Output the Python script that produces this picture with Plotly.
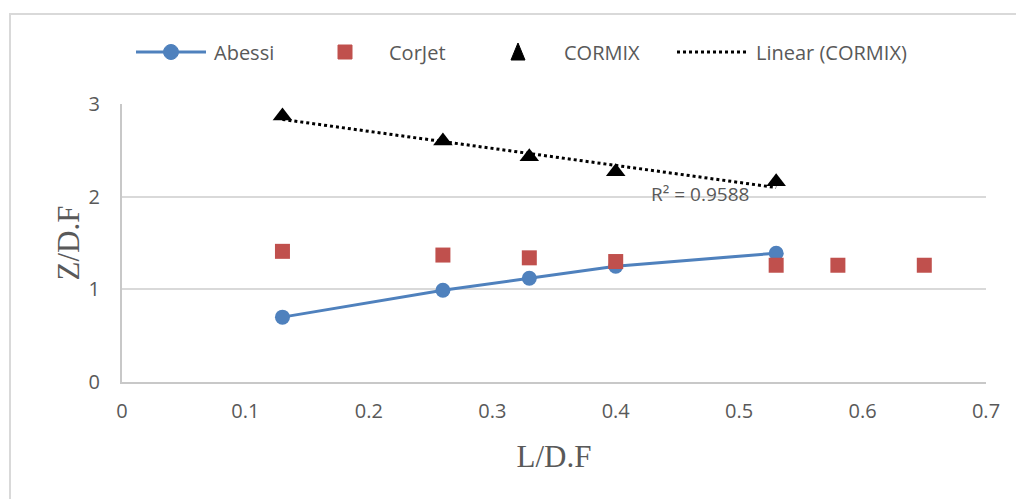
import numpy as np
import plotly.graph_objects as go

x_abessi = [0.13, 0.26, 0.33, 0.40, 0.53]
y_abessi = [0.70, 0.99, 1.12, 1.25, 1.39]

x_corjet = [0.13, 0.26, 0.33, 0.40, 0.53, 0.58, 0.65]
y_corjet = [1.41, 1.37, 1.34, 1.30, 1.26, 1.26, 1.26]

x_cormix = [0.13, 0.26, 0.33, 0.40, 0.53]
y_cormix = [2.87, 2.60, 2.43, 2.27, 2.16]

x_ticks = [0, 0.1, 0.2, 0.3, 0.4, 0.5, 0.6, 0.7]
x_ticklabels = ["0", "0.1", "0.2", "0.3", "0.4", "0.5", "0.6", "0.7"]
y_ticks = [0, 1, 2, 3]

series_names = ["Abessi", "CorJet", "CORMIX", "Linear (CORMIX)"]

# linear trendline of CORMIX
xc = np.array(x_cormix)
yc = np.array(y_cormix)
slope, intercept = np.polyfit(xc, yc, 1)
trend_x = [xc.min(), xc.max()]
trend_y = [slope * v + intercept for v in trend_x]

W, H = 1016, 499
ML, MR, MT, MB = 122, 30, 104, 117
PW, PH = W - ML - MR, H - MT - MB


def px(xp):
    return (xp - ML) / PW


def py(yp):
    return (H - MB - yp) / PH


BLUE, RED, BLACK, GRAY = "#4F81BD", "#C0504D", "#000000", "#595959"
tick_font = dict(family="Open Sans", size=20, color=GRAY)
title_font = dict(family="Liberation Serif", size=31, color=GRAY)

fig = go.Figure()
fig.add_trace(go.Scatter(
    x=x_abessi, y=y_abessi, mode="lines+markers", name=series_names[0],
    line=dict(color=BLUE, width=3),
    marker=dict(symbol="circle", size=15, color=BLUE),
))
fig.add_trace(go.Scatter(
    x=x_corjet, y=y_corjet, mode="markers", name=series_names[1],
    marker=dict(symbol="square", size=15, color=RED),
))
fig.add_trace(go.Scatter(
    x=x_cormix, y=y_cormix, mode="markers", name=series_names[2],
    marker=dict(symbol="triangle-up", size=17, color=BLACK),
))
fig.add_trace(go.Scatter(
    x=trend_x, y=trend_y, mode="lines", name=series_names[3],
    line=dict(color=BLACK, width=3, dash="dot"),
))

fig.add_annotation(
    x=0.468, y=2.03, xref="x", yref="y", text="R² = 0.9588",
    showarrow=False, font=dict(family="Open Sans", size=19, color=GRAY),
)

# chart area border
fig.add_shape(type="rect", xref="paper", yref="paper",
              x0=px(10), x1=px(1030), y0=py(520), y1=py(14),
              line=dict(color="#D9D9D9", width=2), layer="below")

# ---- legend (drawn manually to match the original layout) ----
LY = 52
# Abessi: line + circle
fig.add_shape(type="line", xref="paper", yref="paper",
              x0=px(136), x1=px(206), y0=py(LY), y1=py(LY),
              line=dict(color=BLUE, width=3))
fig.add_shape(type="circle", xref="paper", yref="paper",
              x0=px(171 - 7.5), x1=px(171 + 7.5), y0=py(LY + 7.5), y1=py(LY - 7.5),
              line=dict(color=BLUE, width=1), fillcolor=BLUE)
# CorJet: square
fig.add_shape(type="rect", xref="paper", yref="paper",
              x0=px(345 - 7), x1=px(345 + 7), y0=py(LY + 7), y1=py(LY - 7),
              line=dict(color=RED, width=1), fillcolor=RED)
# CORMIX: triangle
tri = "M {:.5f},{:.5f} L {:.5f},{:.5f} L {:.5f},{:.5f} Z".format(
    px(518), py(LY - 9), px(511), py(LY + 8), px(525), py(LY + 8))
fig.add_shape(type="path", xref="paper", yref="paper", path=tri,
              line=dict(color=BLACK, width=1), fillcolor=BLACK)
# Linear: dotted line
fig.add_shape(type="line", xref="paper", yref="paper",
              x0=px(677), x1=px(746), y0=py(LY), y1=py(LY),
              line=dict(color=BLACK, width=3, dash="dot"))

legend_text_x = [212, 387, 562, 754]
for name, tx in zip(series_names, legend_text_x):
    fig.add_annotation(x=px(tx), y=py(LY), xref="paper", yref="paper",
                       text=name, showarrow=False, xanchor="left",
                       yanchor="middle",
                       font=dict(family="Open Sans", size=20, color=GRAY))

fig.update_layout(
    width=W, height=H,
    margin=dict(l=ML, r=MR, t=MT, b=MB, autoexpand=False),
    paper_bgcolor="white", plot_bgcolor="white",
    showlegend=False,
    xaxis=dict(range=[0, 0.7], tickvals=x_ticks, ticktext=x_ticklabels,
               showgrid=False, zeroline=False, showline=True,
               linecolor="#C8C8C8", linewidth=2, ticks="",
               tickfont=tick_font, ticklabelstandoff=10,
               title=dict(text="L/D.F", font=title_font, standoff=22)),
    yaxis=dict(range=[0, 3], tickvals=y_ticks, showgrid=True,
               gridcolor="#D9D9D9", gridwidth=2, zeroline=False,
               showline=True, linecolor="#C8C8C8", linewidth=2, ticks="",
               tickfont=tick_font, ticklabelstandoff=16,
               title=dict(text="Z/D.F", font=title_font, standoff=0)),
)

fig.write_html("out.html")
